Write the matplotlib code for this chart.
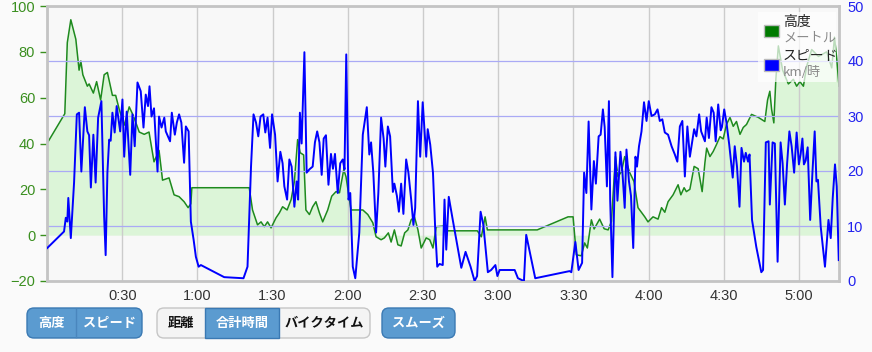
import matplotlib
matplotlib.use("Agg")
import matplotlib.pyplot as plt
from matplotlib.patches import FancyBboxPatch, Rectangle
from matplotlib.ticker import FuncFormatter, MultipleLocator

plt.rcParams['font.family'] = ['Liberation Sans', 'Noto Sans CJK JP', 'DejaVu Sans']

# elapsed time in minutes / altitude in metres
alt_t = [0, 7.1, 8.1, 9.5, 11.5, 12.8, 13.5, 14.3, 16.1, 16.8, 18.5, 19.8, 21.4, 22.8,
         24.1, 26.1, 27.4, 28.8, 30.8, 32.8, 34.5, 36.8, 38.8, 40.7, 42.7, 44.7, 46.1,
         48.7, 50.7, 52.7, 54.7, 56.3, 57.4, 57.8, 80.7, 82, 84, 85.4, 86.7, 88, 89.4,
         91.4, 92.7, 94, 95.8, 97.4, 98.7, 100, 101, 102.4, 103.3, 104.7, 106, 107.3,
         108.7, 110, 112, 113.6, 115.3, 116.7, 118.4, 119.3, 121.3, 126, 128, 130, 131.3,
         133.3, 134.6, 136.2, 137.3, 138.6, 140, 141.3, 142.7, 144, 145.3, 146.6, 148,
         149.3, 151.3, 152.7, 154, 155.3, 159.3, 159.6, 171.7, 173.3, 174.8, 175.7, 195.6,
         207.9, 209.9, 211.2, 213.2, 214.5, 215.6, 217.2, 218.3, 220.5, 222.3, 223.9,
         225.2, 226.8, 227.8, 229.2, 230.5, 232.5, 234.2, 235.8, 238.5, 239.8, 241.8,
         243.8, 245.2, 246.5, 247.8, 249.8, 251.8, 252.9, 254.2, 255.1, 256.5, 258.2,
         259.8, 261.4, 262.5, 263.2, 264.5, 265.8, 267.1, 268.5, 269.8, 271.1, 272.5,
         273.8, 275.1, 276.5, 277.8, 279.1, 281.1, 283.8, 286.4, 287.5, 288.4, 289.1, 290,
         290.8, 291.8, 293.5, 295.8, 297.8, 299.1, 300.4, 301.8, 303.1, 305.1, 307.8,
         311.1, 313.1, 314.2, 315.1, 316]
alt_v = [40, 53, 84, 94, 85.5, 72, 76, 70, 65, 66, 62, 67, 59, 70, 71, 61, 61, 55, 48, 56,
         52, 45, 44, 45, 32, 37, 24, 25, 17.6, 16.8, 14.6, 12, 13.7, 20.7, 20.7, 11, 4.5,
         5.8, 3.7, 5.8, 3.2, 7.6, 9.7, 12.4, 11, 15.5, 23.4, 41.7, 36, 35, 11, 9, 12.4,
         14.6, 9.7, 5.8, 11, 17, 19, 18.5, 28.6, 25.5, 11, 11, 9, 5.4, -0.7, -2, -1.2, 1,
         -3, 2.3, -4.2, -4.7, 1, 2.3, 6.7, 8, 2.3, -5.6, -1.2, -2, -5.6, 3.7, 4.1, 1.9,
         1.9, -0.7, 8, 2.3, 2.3, 8, 8, -8.6, -9, -3.4, -5.6, 6.7, 2.7, 7, 2.8, 2.3, 6,
         34.3, 25.5, 27.7, 34.3, 27.3, 23.4, 12, 8, 5.8, 8, 7, 12, 10, 14.6, 17.6, 22,
         17.6, 20.7, 19, 20, 30, 29, 19, 31.6, 38, 34.3, 36.5, 39.5, 43, 42, 48.3, 51.4,
         47.5, 49.6, 44, 47, 48.3, 52.7, 51.4, 49.6, 59, 62.8, 55, 49, 68, 82.6, 72, 66,
         68, 65, 67, 65, 73.7, 81, 78, 80, 73, 86.4, 77, 65]

# elapsed time in minutes / speed in km/h
spd_t = [0.1, 6.8, 7.5, 8.1, 8.5, 9.5, 10.8, 11.9, 12.8, 13.7, 15.1, 16.1, 16.8, 17.5,
         18.5, 19.4, 20.4, 21.7, 22.8, 23.4, 24.1, 24.8, 25.4, 26.1, 27, 27.8, 29.2, 30.1,
         30.8, 31.8, 33.2, 34.1, 35, 36.1, 37.4, 38.5, 39.4, 40.3, 40.9, 41.7, 42.7, 44.1,
         44.7, 45.7, 46.8, 47.4, 49.1, 49.8, 51, 51.8, 52.7, 53.6, 54.7, 55.4, 56.5, 57.4,
         58.5, 59.4, 60.5, 61.4, 70.7, 78.4, 80, 81.4, 82.4, 83.4, 84.3, 85.2, 86.3, 87.1,
         88, 89, 89.8, 91, 92, 93.1, 94, 94.7, 95.8, 96.7, 97.6, 98.7, 99.6, 100.2, 100.9,
         101.6, 102.7, 103.6, 104.7, 106, 106.9, 107.8, 108.7, 109.6, 110.4, 111.3, 112.3,
         113.3, 114.1, 114.9, 116, 117, 118, 118.7, 119.4, 120.3, 121, 122, 123, 124.6,
         126, 127.6, 128.6, 129.3, 130.2, 131.3, 132.2, 133.3, 134.3, 135, 136, 136.9,
         138, 138.6, 139.6, 140.4, 141.3, 142.2, 143.3, 144.2, 145.3, 146.2, 146.9, 148,
         148.9, 149.9, 151.3, 151.9, 152.9, 154, 154.9, 155.7, 156.6, 157.9, 158.6, 159.3,
         160.3, 161.9, 165.3, 167, 169, 170.6, 171.6, 173, 174.1, 175.9, 177.2, 178.9,
         179.7, 180.6, 186.6, 187.9, 190.3, 191.2, 194.8, 208.5, 209.2, 210.8, 212.1,
         213.5, 214.3, 215.2, 216.1, 217.2, 218.2, 219, 220.1, 220.9, 221.8, 222.5, 223.4,
         224.2, 224.7, 225.6, 226.8, 227.6, 228.8, 229.6, 230.5, 231.2, 232.2, 233, 233.9,
         234.8, 235.4, 236.2, 237.2, 238.2, 239.2, 240.1, 241.2, 242.5, 243.6, 244.5,
         245.5, 246.5, 247.8, 249.2, 250.5, 251.5, 252.5, 253.5, 254.5, 255.5, 256.5,
         258.2, 259.1, 260.2, 261, 262.5, 263.2, 264.1, 265.1, 266, 266.8, 267.8, 268.8,
         269.3, 270.2, 271.1, 272.2, 273.6, 274.4, 275.3, 276.3, 277.1, 278.1, 278.8,
         279.7, 280.3, 281.3, 283, 285, 285.7, 286.8, 287.9, 288.4, 289.5, 290.4, 291.5,
         292.7, 293.5, 294.4, 295.3, 296.2, 297.1, 298.1, 299.1, 300, 300.7, 301.4, 302,
         302.7, 303.5, 304.5, 305.4, 306.3, 307, 307.6, 308.7, 310.4, 311.8, 312.7, 313.5,
         314.4, 315.1, 315.9]
spd_v = [6, 9, 11.5, 10.8, 15.1, 7.8, 17.9, 30.3, 30.6, 19.9, 31.6, 27.2, 26.5, 17, 26.6,
         17.9, 29.7, 32.7, 11.7, 4.7, 19.7, 25.7, 25.5, 30.6, 27, 31.8, 27.2, 33, 22.6,
         30.8, 19.3, 30.3, 24.5, 36.1, 34.5, 27.9, 33.9, 31.8, 35.4, 29.9, 31.4, 19.9,
         29.9, 27.9, 29.7, 27.2, 25.4, 30.6, 26.6, 28.8, 30.3, 28.8, 21.5, 28.1, 27.2,
         10.8, 7.5, 4.4, 2.6, 2.9, 0.7, 0.5, 2.6, 20.8, 30.3, 28.8, 26.3, 29.9, 30.3, 27,
         29.7, 24.2, 30.3, 26.6, 18.1, 23.5, 21.4, 17.2, 14.8, 22.1, 20.8, 13.5, 18.1,
         14.8, 30.6, 25, 41.6, 19.7, 20.3, 20.8, 25.2, 27.2, 25.2, 19.3, 25.9, 26.5, 17.5,
         23.1, 20.4, 23.1, 16, 21.4, 22.1, 20.3, 41.2, 14.8, 16, 2.6, 0.5, 8.8, 26.6,
         31.6, 23, 25.2, 19.7, 8.8, 16, 29.7, 25.9, 20.8, 28.1, 26.3, 16.2, 17.7, 15.5,
         12.6, 17.7, 12.2, 22.1, 19.7, 14.8, 10.2, 13.3, 32.7, 22.6, 32.5, 22.6, 27.6,
         24.8, 19.7, 9.3, 2.6, 3.1, 2.9, 14.8, 5.7, 15.3, 11.1, 2.4, 5.3, 2.6, 0, 0.9,
         12.6, 10.2, 1.6, 2, 2.9, 0.9, 2, 2, 0.5, 0, 8.4, 0.5, 1.8, 1.6, 7.1, 2, 3.3,
         19.7, 16, 29, 13, 21.8, 17.7, 26.3, 26.6, 31.2, 28, 17.2, 32.7, 14.8, 0.7, 23.4,
         14.6, 23.5, 19.7, 13.3, 23.9, 18.1, 15.5, 6, 22.6, 20.8, 24.5, 27.2, 32.5, 29.1,
         32.7, 30, 30.3, 31.2, 29.1, 29.4, 27, 26.6, 24.5, 23, 21.7, 28.1, 29.1, 19, 28.1,
         22.6, 27.6, 26.3, 30.3, 27.2, 25.4, 29.7, 26, 31.6, 30.6, 25.4, 32.1, 27.4, 28,
         31.2, 28.8, 24.8, 18.8, 24.5, 20.8, 13.5, 24.2, 21.7, 23.3, 21.7, 23, 11.1, 6.2,
         1.6, 2, 25.2, 25.4, 13.9, 25.2, 25, 3.5, 25.2, 21.4, 13.9, 21.4, 27.2, 24.5,
         19.7, 27, 21.2, 23.1, 25.9, 21.2, 21.9, 24.3, 11.1, 19.7, 27.2, 18.1, 18.4, 9.9,
         2.6, 11.1, 7.8, 15.1, 21.2, 17.2, 3.8]

legend_labels = [("高度", "メートル"), ("スピード", "km/時")]
buttons_1 = ["高度", "スピード"]
buttons_2 = ["距離", "合計時間", "バイクタイム"]
buttons_3 = ["スムーズ"]

ALT_COLOR = '#1e8a1e'
SPD_COLOR = '#0000ff'
BTN_BLUE = '#5b9bd0'
BTN_EDGE = '#3a79b3'
CJK = ['Noto Sans CJK JP', 'DejaVu Sans']

fig = plt.figure(figsize=(8.72, 3.52), dpi=100)
fig.patch.set_facecolor('#fafafa')

ax = fig.add_axes([47 / 872, 1 - 281 / 352, 792 / 872, 275 / 352])
ax.set_facecolor('#f8f8f8')
ax.fill_between(alt_t, alt_v, 0, color='#dcf5d8', lw=0, zorder=1)
ax.plot(alt_t, alt_v, color=ALT_COLOR, lw=1.1, zorder=2)
ax.set_xlim(0, 316)
ax.set_ylim(-20, 100)
ax.yaxis.set_major_locator(MultipleLocator(20))
ax.xaxis.set_major_locator(MultipleLocator(30))
ax.xaxis.set_major_formatter(FuncFormatter(
    lambda v, p: '' if v <= 0 else '%d:%02d' % (v // 60, v % 60)))
ax.grid(axis='x', color='#cccccc', lw=1)
ax.tick_params(axis='y', colors='#3a8f1f', labelsize=10.5, length=5, width=1)
ax.tick_params(axis='x', length=0, labelsize=10.5, labelcolor='#333333', pad=6)
for s in ax.spines.values():
    s.set_visible(False)

ax2 = ax.twinx()
ax2.plot(spd_t, spd_v, color=SPD_COLOR, lw=1.4, zorder=3)
ax2.set_ylim(0, 50)
ax2.yaxis.set_major_locator(MultipleLocator(10))
ax2.grid(axis='y', color='#aaaaf5', lw=0.9)
ax2.tick_params(axis='y', colors='#2222ee', labelsize=10.5, length=0, pad=6)
for s in ax2.spines.values():
    s.set_color('#c4c4c4')
    s.set_linewidth(2)

# overlay in pixel coordinates for the legend and the buttons below
ov = fig.add_axes([0, 0, 1, 1], zorder=10)
ov.set_xlim(0, 872)
ov.set_ylim(352, 0)
ov.axis('off')

ov.add_patch(Rectangle((758, 12), 78, 70, facecolor='white', alpha=0.7, lw=0))
for i, (name, unit) in enumerate(legend_labels):
    y0 = 25 + i * 34
    col = '#007a00' if i == 0 else SPD_COLOR
    ov.add_patch(Rectangle((764, y0), 15, 12, facecolor=col,
                           edgecolor='#bbbbbb', lw=1))
    ov.text(783, y0 - 3, name, fontsize=10, color='#222222', va='center', ha='left',
            family=CJK)
    ov.text(783, y0 + 13, unit, fontsize=9.5, color='#8a8a8a', va='center', ha='left',
            family=CJK)


def button_group(x0, widths, labels, active):
    total = sum(widths)
    face = BTN_BLUE if all(active) else '#f4f4f4'
    edge = BTN_EDGE if all(active) else '#c6c6c6'
    ov.add_patch(FancyBboxPatch((x0, 308), total, 30,
                                boxstyle='round,pad=0,rounding_size=7',
                                facecolor=face, edgecolor=edge, lw=1))
    x = x0
    for w, lab, on in zip(widths, labels, active):
        if on and not all(active):
            ov.add_patch(Rectangle((x, 308), w, 30, facecolor=BTN_BLUE,
                                   edgecolor=BTN_EDGE, lw=1))
        ov.text(x + w / 2, 323, lab, fontsize=9.5, fontweight='bold', family=CJK,
                color='white' if on else '#111111', ha='center', va='center')
        if x > x0 and all(active):
            ov.plot([x, x], [309, 337], color='#4a86bd', lw=1)
        x += w


button_group(27, [49, 66], buttons_1, [True, True])
button_group(157, [48, 74, 91], buttons_2, [False, True, False])
button_group(382, [73], buttons_3, [True])

fig.savefig('out.png', dpi=100, facecolor=fig.get_facecolor())
